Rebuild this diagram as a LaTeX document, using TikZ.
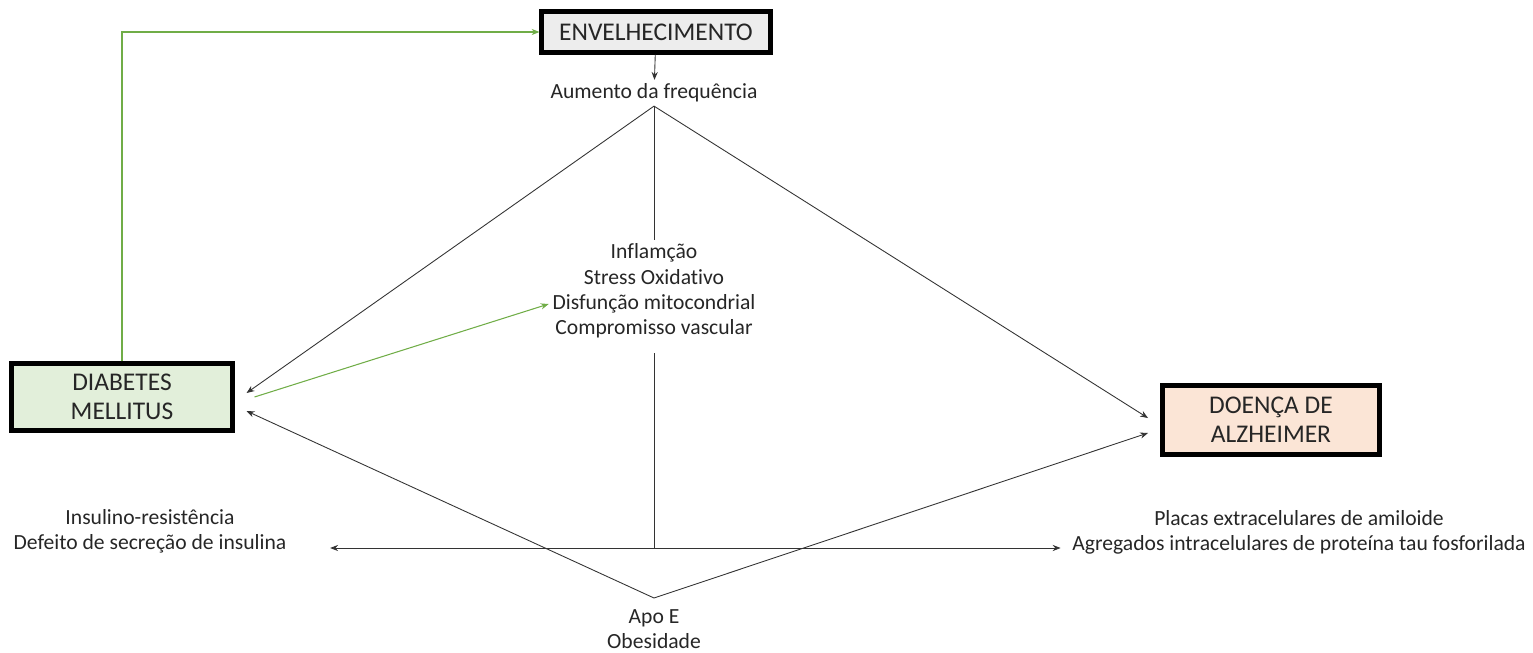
\documentclass[tikz,border=0pt]{standalone}
\usepackage{fontspec}
\setmainfont{Carlito}[Ligatures = NoCommon]
\usetikzlibrary{arrows.meta}
\definecolor{agegray}{HTML}{EDEDED}
\definecolor{dmgreen}{HTML}{E2EFDA}
\definecolor{dapeach}{HTML}{FBE5D6}
\definecolor{linkgreen}{HTML}{70AD47}
\definecolor{textgray}{HTML}{262626}

\tikzset{%
        every node/.style = {font = \fontsize{12.3}{14.4}\selectfont, text = textgray, align = center, inner sep = 2pt},
        mainbox/.style = {rectangle, draw = black, line width = 2.6pt, font = \fontsize{14.5}{16.5}\selectfont, inner sep = 0pt},
        aging/.style = {mainbox, fill = agegray, minimum width = 4.57cm, minimum height = 0.81cm},
        diabetes/.style = {mainbox, fill = dmgreen, minimum width = 4.41cm, minimum height = 1.33cm},
        alzheimer/.style = {mainbox, fill = dapeach, minimum width = 4.35cm, minimum height = 1.39cm},
        link/.style = {draw = black!80, line width = 0.5pt},
        linkarrow/.style = {link, -{Stealth[length = 4.5pt, width = 3.5pt]}},
        greenarrow/.style = {draw = linkgreen, line width = 0.6pt, -{Stealth[length = 4.5pt, width = 3.5pt]}}
    }

\begin{document}
\begin{tikzpicture}[x = 0.02cm, y = -0.02cm]
				\useasboundingbox (0,0) rectangle (1533,652);

				\node[aging]			(env)		at (656,32)		{ENVELHECIMENTO};
				\node[]				(freq)		at (654,93)		{Aumento da frequência};
				\node[]				(mech)		at (654,291)		{Inflamção\\Stress Oxidativo\\Disfunção mitocondrial\\Compromisso vascular};
				\node[diabetes]		(dm)		at (122,397)		{DIABETES\\MELLITUS};
				\node[alzheimer]		(da)		at (1271,420)		{DOENÇA DE\\ALZHEIMER};
				\node[]				(dmsigns)	at (150,531)		{Insulino-resistência\\Defeito de secreção de insulina};
				\node[]				(dasigns)	at (1299,532)		{Placas extracelulares de amiloide\\Agregados intracelulares de proteína tau fosforilada};
				\node[]				(risk)		at (654,629)		{Apo E\\Obesidade};

				\coordinate			(split)		at (654,548);
				\coordinate			(base)		at (654,598);

				\draw[linkarrow]	(env)	--	(freq);
				\draw[link]		(freq.south)	--	(mech.north);
				\draw[link]		([yshift = -0.22cm]mech.south)	--	(split);
				\draw[linkarrow]	(split)	--	([xshift = 0.8cm]dmsigns.east |- split);
				\draw[linkarrow]	(split)	--	([xshift = -0.16cm]dasigns.west |- split);

				\draw[linkarrow]	(freq.south)	--	([xshift = 0.24cm, yshift = 0.08cm]dm.east);
				\draw[linkarrow]	(freq.south)	--	([xshift = -0.24cm, yshift = 0.04cm]da.west);
				\draw[linkarrow]	(base)	--	([xshift = 0.24cm, yshift = -0.28cm]dm.east);
				\draw[linkarrow]	(base)	--	([xshift = -0.24cm, yshift = -0.26cm]da.west);

				\draw[greenarrow]	(dm.north)	--	(dm.north |- env.west)	--	(env.west);
				\draw[greenarrow]	([xshift = 0.4cm]dm.east)	--	([yshift = -0.26cm]mech.west);
			\end{tikzpicture}
\end{document}
